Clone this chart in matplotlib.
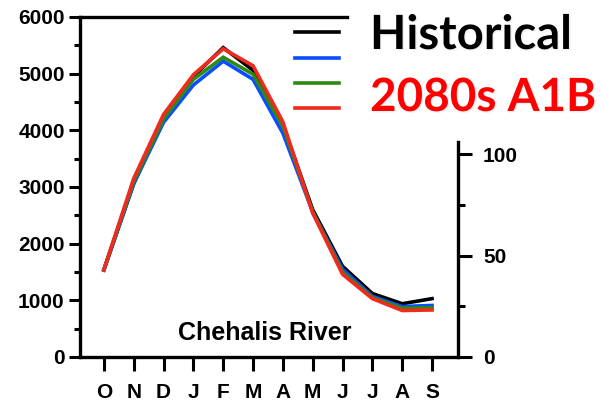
import matplotlib.pyplot as plt
import matplotlib.patheffects as pe
from matplotlib.lines import Line2D
from matplotlib.ticker import MultipleLocator, FixedLocator

# Chehalis River mean monthly flow, water year order
months = ['O', 'N', 'D', 'J', 'F', 'M', 'A', 'M', 'J', 'J', 'A', 'S']
historical = [1540, 3060, 4200, 4950, 5460, 5060, 4100, 2600, 1600, 1120, 940, 1030]
scen_blue = [1530, 3060, 4140, 4800, 5220, 4900, 3950, 2560, 1550, 1070, 890, 910]
scen_green = [1540, 3100, 4200, 4900, 5290, 4990, 4070, 2560, 1500, 1050, 860, 870]
scen_red = [1540, 3150, 4280, 4980, 5440, 5140, 4150, 2540, 1460, 1030, 820, 830]

series = [(historical, 'black'), (scen_blue, '#0a4cff'),
          (scen_green, '#2f8a12'), (scen_red, '#f02a1e')]

W, H = 601, 403
fig = plt.figure(figsize=(W / 100, H / 100), dpi=100)
ax = fig.add_axes([80 / W, 1 - 357 / H, (458 - 80) / W, (357 - 17) / H])

x = list(range(len(months)))
for vals, col in series:
    ax.plot(x, vals, color=col, lw=2.6, solid_joinstyle='miter', zorder=3)

ax.set_xlim(-0.8, 11.87)
ax.set_ylim(0, 6000)
ax.set_xticks(x)
ax.set_xticklabels(months)
ax.yaxis.set_major_locator(MultipleLocator(1000))
ax.yaxis.set_minor_locator(MultipleLocator(500))

tick_font = dict(family='Liberation Sans', weight='bold', size=15)
for lab in ax.get_xticklabels() + ax.get_yticklabels():
    lab.set_fontproperties(tick_font)

ax.tick_params(axis='x', direction='out', length=10, width=2.2, pad=9)
ax.tick_params(axis='y', which='major', direction='out', length=8, width=2.2, pad=3)
ax.tick_params(axis='y', which='minor', direction='out', length=4, width=2.2)

for s in ['left', 'bottom', 'top']:
    ax.spines[s].set_linewidth(2.4)
ax.spines['right'].set_visible(False)
ax.spines['top'].set_bounds(-0.8, 8.15)

# secondary axis on the right, only its lower part is shown
ax2 = ax.twinx()
ax2.set_ylim(0, 167.5)
ax2.yaxis.set_major_locator(FixedLocator([0, 50, 100]))
ax2.yaxis.set_minor_locator(FixedLocator([25, 75]))
for lab in ax2.get_yticklabels():
    lab.set_fontproperties(tick_font)
ax2.tick_params(axis='y', which='major', direction='out', length=10, width=2.2, pad=8)
ax2.tick_params(axis='y', which='minor', direction='out', length=5, width=2.2)
for s in ['left', 'bottom', 'top']:
    ax2.spines[s].set_visible(False)
ax2.spines['right'].set_linewidth(2.4)
ax2.spines['right'].set_bounds(0, 106)

ax.text(0.49, 0.07, 'Chehalis River', transform=ax.transAxes, ha='center',
        va='center', family='Liberation Sans', weight='bold', size=18)

# legend swatches
for (vals, col), ypx in zip(series, [32, 58, 83, 108]):
    fig.add_artist(Line2D([295 / W, 339 / W], [1 - ypx / H, 1 - ypx / H],
                          color=col, lw=2.6))

shadow = [pe.SimplePatchShadow(offset=(1, -1), shadow_rgbFace='0.7', alpha=0.2),
          pe.Normal()]
fig.text(370 / W, 1 - 35 / H, 'Historical', fontsize=34, family='Lato',
         weight='bold', color='black', va='center', ha='left', path_effects=shadow)
fig.text(370 / W, 1 - 98 / H, '2080s A1B', fontsize=33, family='Lato',
         weight='bold', color='#ff0000', va='center', ha='left', path_effects=shadow)

fig.savefig('out.png', dpi=100)
